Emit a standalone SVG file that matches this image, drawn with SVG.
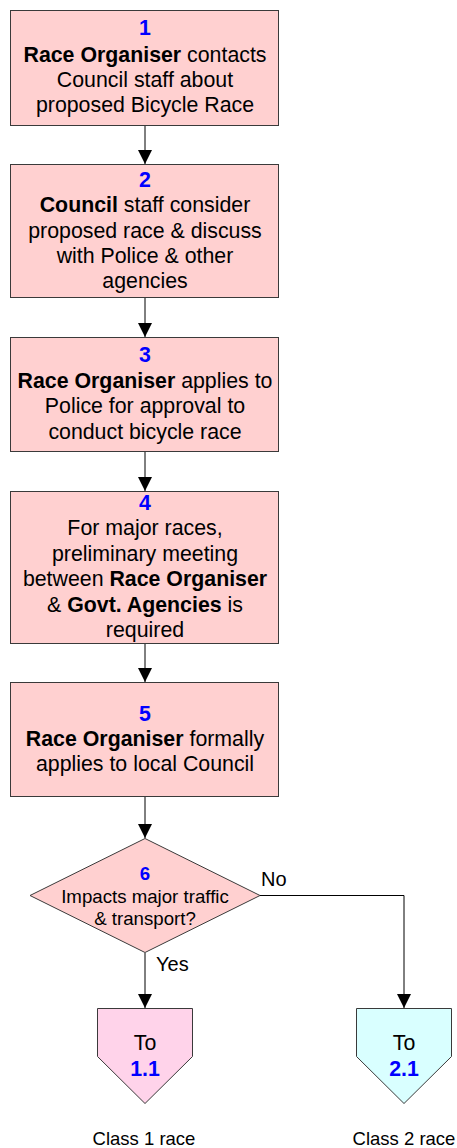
<svg xmlns="http://www.w3.org/2000/svg" width="457" height="1148" viewBox="0 0 457 1148">
  <defs>
    <marker id="arrow" markerUnits="userSpaceOnUse" markerWidth="14" markerHeight="14" viewBox="0 0 14 14" refX="14" refY="7" orient="auto">
      <path d="M0,0 L14,7 L0,14 Z" fill="#000"/>
    </marker>
    <style>
      text { font-family: "Liberation Sans", Arial, sans-serif; font-size: 21.33px; fill: #000; text-anchor: middle; }
      .num { font-weight: bold; fill: #0000FF; }
      .b { font-weight: bold; }
      .box { fill: #FFD0D0; stroke: #3a3a3a; stroke-width: 1; }
      .conn { fill: none; stroke: #000; stroke-width: 1; }
      .small { font-size: 18.67px; }
      .lbl { text-anchor: start; font-size: 20px; }
      .cap { font-size: 18.5px; }
    </style>
  </defs>

  <!-- connectors -->
  <g id="connectors">
    <line class="conn" x1="145" y1="126" x2="145" y2="164" marker-end="url(#arrow)"/>
    <line class="conn" x1="145" y1="298" x2="145" y2="337" marker-end="url(#arrow)"/>
    <line class="conn" x1="145" y1="452" x2="145" y2="491" marker-end="url(#arrow)"/>
    <line class="conn" x1="145" y1="644" x2="145" y2="682" marker-end="url(#arrow)"/>
    <line class="conn" x1="145" y1="797" x2="145" y2="838" marker-end="url(#arrow)"/>
    <line class="conn" x1="145" y1="953" x2="145" y2="1008" marker-end="url(#arrow)"/>
    <polyline class="conn" points="260,895.5 404,895.5 404,1008" marker-end="url(#arrow)"/>
    <text class="lbl" x="261" y="886">No</text>
    <text class="lbl" x="156" y="971">Yes</text>
  </g>

  <!-- step 1 -->
  <g id="step1">
    <rect class="box" x="10.5" y="10.5" width="268" height="115"/>
    <text x="145" y="35" class="num">1</text>
    <text x="145" y="62"><tspan class="b">Race Organiser</tspan> contacts</text>
    <text x="145" y="87">Council staff about</text>
    <text x="145" y="112">proposed Bicycle Race</text>
  </g>

  <!-- step 2 -->
  <g id="step2">
    <rect class="box" x="10.5" y="164.5" width="268" height="133"/>
    <text x="145" y="187" class="num">2</text>
    <text x="145" y="212"><tspan class="b">Council</tspan> staff consider</text>
    <text x="145" y="237.5">proposed race &amp; discuss</text>
    <text x="145" y="263">with Police &amp; other</text>
    <text x="145" y="288">agencies</text>
  </g>

  <!-- step 3 -->
  <g id="step3">
    <rect class="box" x="10.5" y="337.5" width="268" height="114"/>
    <text x="145" y="361.5" class="num">3</text>
    <text x="145" y="387.5"><tspan class="b">Race Organiser</tspan> applies to</text>
    <text x="145" y="413">Police for approval to</text>
    <text x="145" y="438.5">conduct bicycle race</text>
  </g>

  <!-- step 4 -->
  <g id="step4">
    <rect class="box" x="10.5" y="491.5" width="268" height="152"/>
    <text x="145" y="509.5" class="num">4</text>
    <text x="145" y="535">For major races,</text>
    <text x="145" y="560.5">preliminary meeting</text>
    <text x="145" y="586">between <tspan class="b">Race Organiser</tspan></text>
    <text x="145" y="611.5">&amp; <tspan class="b">Govt. Agencies</tspan> is</text>
    <text x="145" y="637">required</text>
  </g>

  <!-- step 5 -->
  <g id="step5">
    <rect class="box" x="10.5" y="682.5" width="268" height="114"/>
    <text x="145" y="721" class="num">5</text>
    <text x="145" y="746"><tspan class="b">Race Organiser</tspan> formally</text>
    <text x="145" y="771">applies to local Council</text>
  </g>

  <!-- decision 6 -->
  <g id="decision6">
    <polygon class="box" points="145,838.5 260,895.5 145,952.5 30,895.5"/>
    <text x="145" y="880" class="num small">6</text>
    <text x="145" y="902.5" class="small">Impacts major traffic</text>
    <text x="145" y="924.5" class="small">&amp; transport?</text>
  </g>

  <!-- off-page connector: class 1 -->
  <g id="to11">
    <polygon points="97.5,1008.5 192.5,1008.5 192.5,1056.5 145,1103.5 97.5,1056.5" fill="#FFD3EA" stroke="#3a3a3a" stroke-width="1"/>
    <text x="145" y="1050">To</text>
    <text x="145" y="1076" class="num">1.1</text>
    <text x="144" y="1145" class="cap">Class 1 race</text>
  </g>

  <!-- off-page connector: class 2 -->
  <g id="to21">
    <polygon points="356.5,1008.5 451.5,1008.5 451.5,1056.5 404,1103.5 356.5,1056.5" fill="#D9FFFF" stroke="#3a3a3a" stroke-width="1"/>
    <text x="404" y="1050">To</text>
    <text x="404" y="1076" class="num">2.1</text>
    <text x="404" y="1145" class="cap">Class 2 race</text>
  </g>
</svg>
